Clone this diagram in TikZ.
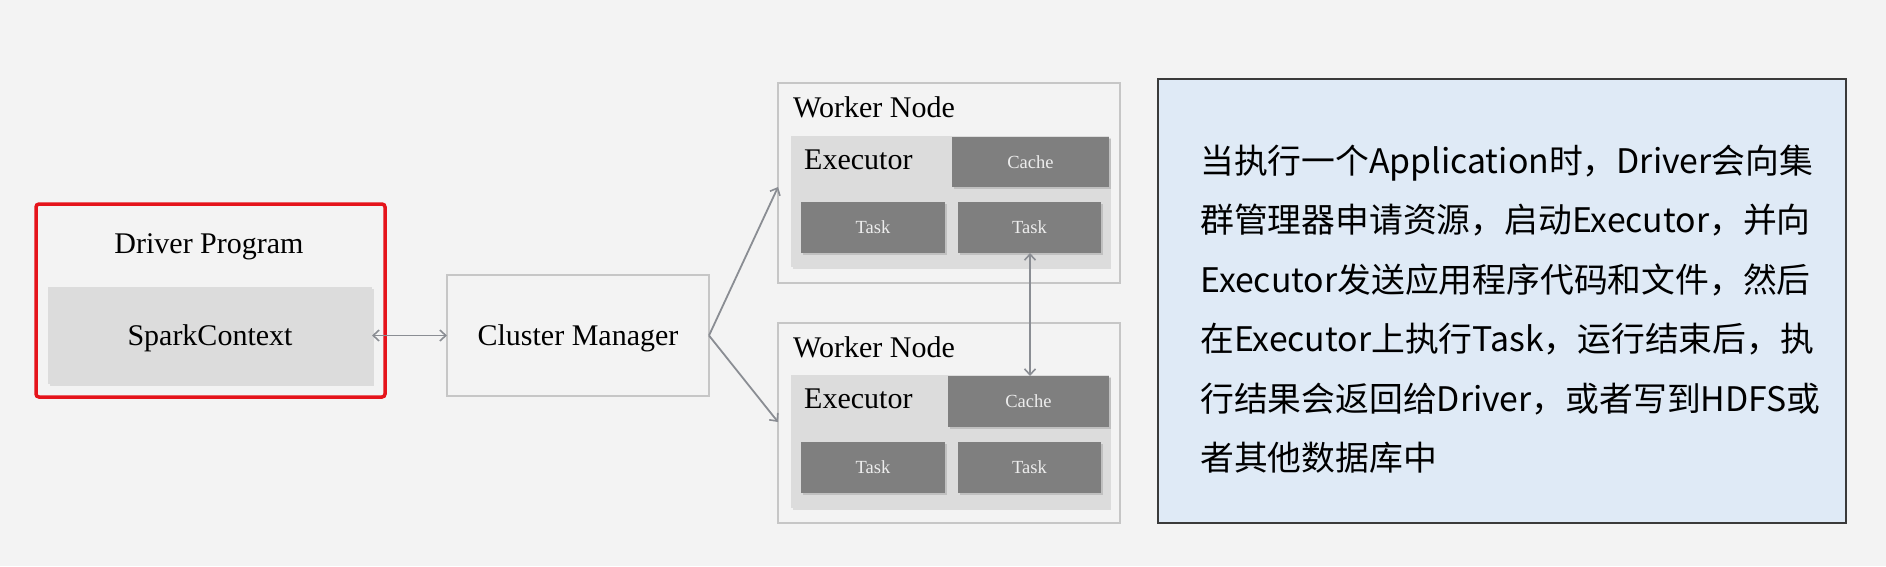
\documentclass[tikz,border=0pt]{standalone}
\usepackage{fontspec}
\setmainfont{Liberation Serif}
\newfontfamily\cjk{Noto Sans CJK SC}
\usetikzlibrary{arrows.meta,shadows}
\definecolor{bg}{HTML}{F3F3F3}
\definecolor{boxline}{HTML}{C6C6C6}
\definecolor{lightfill}{HTML}{DCDCDC}
\definecolor{darkfill}{HTML}{7F7F7F}
\definecolor{redline}{HTML}{E5141B}
\definecolor{bluefill}{HTML}{DFEAF6}
\definecolor{conn}{HTML}{8A8D93}
\definecolor{txtline}{HTML}{3A3A3A}
\definecolor{smalltxt}{HTML}{EDEDED}
\begin{document}
\begin{tikzpicture}[x=1pt,y=-1pt,
  rbox/.style 2 args={minimum width=#1, minimum height=#2, inner sep=0pt, outer sep=0pt},
  outline/.style={draw=boxline, line width=1.3pt, fill=bg},
  light/.style={fill=lightfill, drop shadow={shadow xshift=1.5pt, shadow yshift=-2pt, opacity=0.25, fill=black!40}},
  dark/.style={fill=darkfill, text=smalltxt, font=\fontsize{18.5}{22}\selectfont, text height=12pt, text depth=0pt,
     drop shadow={shadow xshift=1.5pt, shadow yshift=-2pt, opacity=0.3, fill=black!50}},
  bigtxt/.style={font=\fontsize{30}{36}\selectfont, inner sep=0pt, text height=20pt, text depth=0pt},
  cjktxt/.style={font=\cjk\fontsize{33.8}{40}\selectfont, inner sep=0pt, anchor=base west},
  conn/.style={draw=conn, line width=1.8pt, -{Straight Barb[length=6pt,width=11pt,line width=1.6pt]}},
  bconn/.style={draw=conn, line width=1.8pt, {Straight Barb[length=6pt,width=11pt,line width=1.6pt]}-{Straight Barb[length=6pt,width=11pt,line width=1.6pt]}}
]
\useasboundingbox (0,0) rectangle (1886,566);
\fill[bg] (0,0) rectangle (1886,566);

% Driver program
\node[rbox={349}{193}, draw=redline, line width=3.5pt, rounded corners=3pt] (driver) at (210.5,300.5) {};
\node[bigtxt] (drvlabel) at (209,243) {Driver Program};
\node[rbox={324}{97}, light, bigtxt] (sc) at (210,335.5) {SparkContext};

% Cluster manager
\node[rbox={262}{121}, outline, bigtxt] (cm) at (578,335.5) {Cluster Manager};

% Worker 1
\node[rbox={342}{200}, outline] (w1) at (949,183) {};
\node[bigtxt, anchor=west] (w1label) at (793,107) {Worker Node};
\node[rbox={318}{131}, light] (e1) at (950,201.5) {};
\node[bigtxt, anchor=west] (e1label) at (804,159) {Executor};
\node[rbox={157}{50}, dark] (c1) at (1030.5,162) {Cache};
\node[rbox={144}{51}, dark] (t1a) at (873,227.5) {Task};
\node[rbox={143}{51}, dark] (t1b) at (1029.5,227.5) {Task};

% Worker 2
\node[rbox={342}{200}, outline] (w2) at (949,423) {};
\node[bigtxt, anchor=west] (w2label) at (793,347) {Worker Node};
\node[rbox={318}{133}, light] (e2) at (950,441.5) {};
\node[bigtxt, anchor=west] (e2label) at (804,398) {Executor};
\node[rbox={161}{51}, dark] (c2) at (1028.5,401.5) {Cache};
\node[rbox={144}{51}, dark] (t2a) at (873,467.5) {Task};
\node[rbox={143}{51}, dark] (t2b) at (1029.5,467.5) {Task};

% connectors
\draw[bconn] (sc.east) -- (cm.west);
\coordinate (w1in) at (w1.west |- 0,187);
\coordinate (w2in) at (w2.west |- 0,422);
\draw[conn] (cm.east) -- (w1in);
\draw[conn] (cm.east) -- (w2in);
\draw[bconn] (t1b.south -| 1030,0) -- (c2.north -| 1030,0);

% text box
\node[rbox={688}{444}, draw=txtline, line width=2pt, fill=bluefill] (tb) at (1502,301) {};
\node[cjktxt] (l1) at (1200,173) {当执行一个Application时，Driver会向集};
\node[cjktxt] (l2) at (1200,232.5) {群管理器申请资源，启动Executor，并向};
\node[cjktxt] (l3) at (1200,292) {Executor发送应用程序代码和文件，然后};
\node[cjktxt] (l4) at (1200,351.5) {在Executor上执行Task，运行结束后，执};
\node[cjktxt] (l5) at (1200,411) {行结果会返回给Driver，或者写到HDFS或};
\node[cjktxt] (l6) at (1200,470.5) {者其他数据库中};
\end{tikzpicture}
\end{document}
